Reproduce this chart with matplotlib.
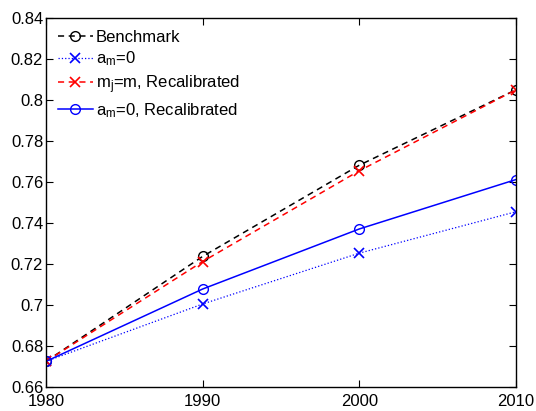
import matplotlib
matplotlib.use("Agg")
import matplotlib.pyplot as plt
from matplotlib.ticker import FuncFormatter

years = [1980, 1990, 2000, 2010]
benchmark = [0.6725, 0.7237, 0.7682, 0.8050]
am0 = [0.6725, 0.7005, 0.7253, 0.7455]
mj_recal = [0.6725, 0.7212, 0.7655, 0.8050]
am0_recal = [0.6725, 0.7078, 0.7371, 0.7612]

plt.rcParams['font.family'] = ['Liberation Sans', 'DejaVu Sans']
plt.rcParams['mathtext.fontset'] = 'custom'
plt.rcParams['mathtext.rm'] = 'Liberation Sans'
plt.rcParams['mathtext.it'] = 'Liberation Sans'

fig = plt.figure(figsize=(5.36, 4.11), dpi=100)
ax = fig.add_axes([0.0858, 0.0584, 0.8769, 0.8978])

ax.plot(years, benchmark, color='black', linestyle=(0, (4, 3)), linewidth=1.1,
        marker='o', markersize=7, markerfacecolor='none', markeredgewidth=1.0,
        label='Benchmark')
ax.plot(years, am0, color='blue', linestyle=':', linewidth=0.9,
        marker='x', markersize=7, markeredgewidth=1.2,
        label='a$_{\\mathregular{m}}$=0')
ax.plot(years, mj_recal, color='red', linestyle=(0, (4, 3)), linewidth=1.1,
        marker='x', markersize=7, markeredgewidth=1.2,
        label='m$_{\\mathregular{j}}$=m, Recalibrated')
ax.plot(years, am0_recal, color='blue', linestyle='-', linewidth=1.1,
        marker='o', markersize=7, markerfacecolor='none', markeredgewidth=1.0,
        label='a$_{\\mathregular{m}}$=0, Recalibrated')

ax.set_xlim(1980, 2010)
ax.set_ylim(0.66, 0.84)
ax.set_xticks(years)
ax.set_yticks([0.66 + 0.02 * i for i in range(10)])
ax.yaxis.set_major_formatter(FuncFormatter(lambda v, p: '%g' % round(v, 2)))
ax.tick_params(direction='in', top=True, right=True, length=5, width=0.8,
               labelsize=12)
ax.tick_params(axis='y', pad=2)
ax.tick_params(axis='x', pad=5)
for s in ax.spines.values():
    s.set_linewidth(1.0)

leg = ax.legend(loc='upper left', frameon=False, handlelength=2.1,
                handletextpad=0.2, labelspacing=0.3, borderaxespad=0.4,
                borderpad=0.3, fontsize=12)

fig.savefig('out.png', dpi=100)
